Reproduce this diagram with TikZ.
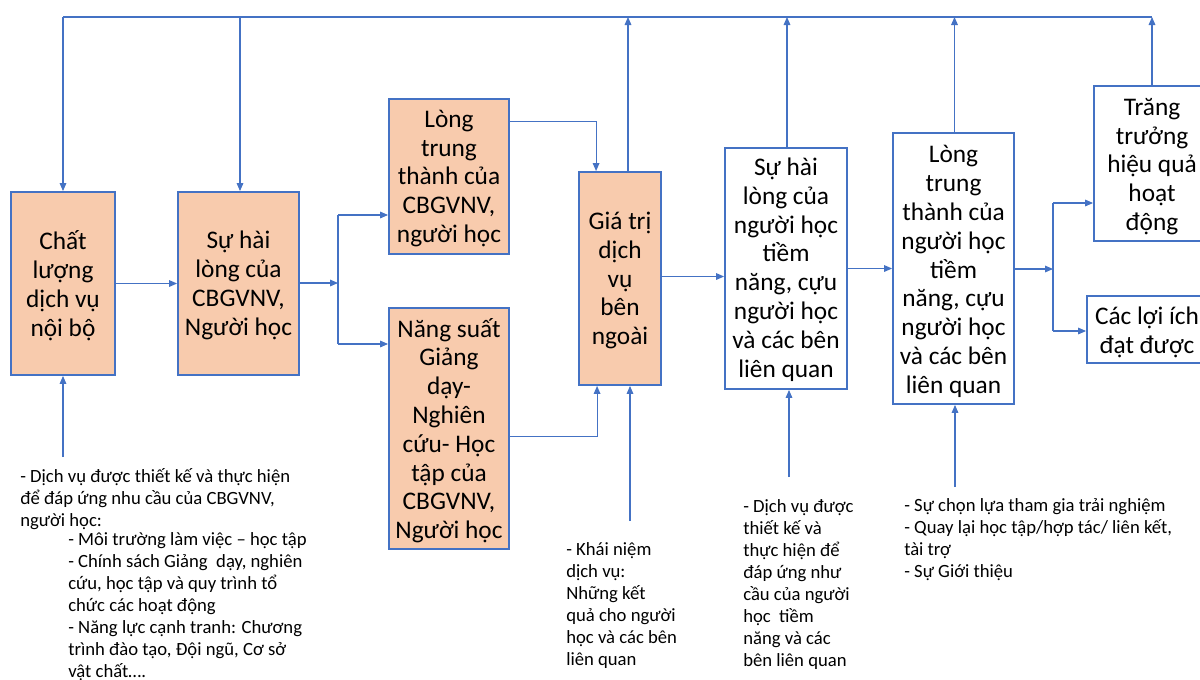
\documentclass[tikz,border=0pt]{standalone}
\usepackage{fontspec}
\setmainfont{Carlito}
\usetikzlibrary{arrows.meta,calc,fit}
\definecolor{peach}{HTML}{F8CBAD}
\definecolor{edge}{HTML}{4472C4}
\begin{document}
\begin{tikzpicture}[x=0.75pt,y=-0.75pt,
  box/.style={draw=edge,line width=1.4pt,inner sep=0pt},
  warm/.style={box,fill=peach},
  plain/.style={box,fill=white},
  boxtext/.style={inner sep=0pt,align=center,
    font=\fontsize{19}{21.6}\selectfont},
  link/.style={draw=edge,line width=0.8pt},
  arr/.style={link,-{Triangle[length=6pt,width=5pt]}},
  note/.style={align=left,inner sep=0pt,anchor=north west,
    font=\fontsize{14}{16.5}\selectfont}]
\clip (0,0) rectangle (1200,679);

% main boxes
\node[warm,fit={(11,192)(115,375)}] (b1) {};
\node[warm,fit={(178,192)(299,375)}] (b2) {};
\node[warm,fit={(389,99)(509,254)}] (b3) {};
\node[warm,fit={(389,308)(509,549)}] (b4) {};
\node[warm,fit={(579,172)(661,385)}] (b5) {};
\node[plain,fit={(725,148)(847,389)}] (b6) {};
\node[plain,fit={(893,133)(1014,404)}] (b7) {};
\node[plain,fit={(1094,86)(1210,241)}] (b8) {};
\node[plain,fit={(1087,296)(1207,363)}] (b9) {};

% box captions
\node[boxtext] (t1) at ($(b1.center)+(0,2)$) {Chất\\lượng\\dịch vụ\\nội bộ};
\node[boxtext] (t2) at ($(b2.center)+(0,2)$) {Sự hài\\lòng của\\CBGVNV,\\Người học};
\node[boxtext] (t3) at ($(b3.center)+(0,2)$) {Lòng\\trung\\thành của\\CBGVNV,\\người học};
\node[boxtext] (t4) at ($(b4.center)+(0,2)$) {Năng suất\\Giảng\\dạy-\\Nghiên\\cứu- Học\\tập của\\CBGVNV,\\Người học};
\node[boxtext] (t5) at ($(b5.center)+(0,2)$) {Giá trị\\dịch\\vụ\\bên\\ngoài};
\node[boxtext] (t6) at ($(b6.center)+(0,1)$) {Sự hài\\lòng của\\người học\\tiềm\\năng, cựu\\người học\\và các bên\\liên quan};
\node[boxtext] (t7) at ($(b7.center)+(0,3)$) {Lòng\\trung\\thành của\\người học\\tiềm\\năng, cựu\\người học\\và các bên\\liên quan};
\node[boxtext] (t8) at ($(b8.center)+(0,3)$) {Trăng\\trưởng\\hiệu quả\\hoạt\\động};
\node[boxtext] (t9) at ($(b9.center)+(0,3)$) {Các lợi ích\\đạt được};

% notes under the boxes
\node[note] (n1) at (20,468) {- Dịch vụ được thiết kế và thực hiện\\để đáp ứng nhu cầu của CBGVNV,\\người học:};
\node[note] (n1b) at (68,532) {- Môi trường làm việc – học tập\\- Chính sách Giảng\ \ dạy, nghiên\\cứu, học tập và quy trình tổ\\chức các hoạt động\\- Năng lực cạnh tranh: Chương\\trình đào tạo, Đội ngũ, Cơ sở\\vật chất….};
\node[note] (n2) at (566,542) {- Khái niệm\\dịch vụ:\\Những kết\\quả cho người\\học và các bên\\liên quan};
\node[note] (n3) at (743,499) {- Dịch vụ được\\thiết kế và\\thực hiện để\\đáp ứng như\\cầu của người\\học\ \ tiềm\\năng và các\\bên liên quan};
\node[note] (n4) at (904,498) {- Sự chọn lựa tham gia trải nghiệm\\- Quay lại học tập/hợp tác/ liên kết,\\tài trợ\\- Sự Giới thiệu};

% feedback line along the top
\coordinate (top) at (63,17);
\coordinate (topend) at (1152,17);
\coordinate (d2) at (240,17);
\coordinate (p5) at ($(b5.north)+(8,0)$);
\coordinate (p6) at ($(b6.north)+(1,0)$);
\coordinate (p7) at ($(b7.north)+(1,0)$);
\draw[link] (top) -- (topend);
\draw[arr] (b1.north |- top) -- (b1.north);
\draw[arr] (d2) -- (d2 |- b2.north);
\draw[arr] (p5) -- (p5 |- top);
\draw[arr] (p6) -- (p6 |- top);
\draw[arr] (p7) -- (p7 |- top);
\draw[arr] (b8.north) -- (b8.north |- top);

% forward chain
\draw[arr] (b1.east) -- (b2.west);
\coordinate (s1) at (338,283);
\coordinate (s1a) at (338,215);
\coordinate (s1b) at (338,344);
\draw[arr] (b2.east |- s1) -- (s1);
\draw[link] (s1a) -- (s1b);
\draw[arr] (s1a) -- (s1a -| b3.west);
\draw[arr] (s1b) -- (s1b -| b4.west);
\draw[arr] ($(b3.north east)+(0,23)$) -| ($(b5.north west)+(18,0)$);
\draw[arr] ($(b4.north east)+(0,129)$) -| ($(b5.south west)+(19,0)$);
\coordinate (e5) at ($(b5.east)+(0,-2)$);
\draw[arr] (e5) -- (e5 -| b6.west);
\draw[arr] (b6.east) -- (b6.east -| b7.west);
\coordinate (s2) at (1053,269);
\coordinate (s2a) at (1053,203);
\coordinate (s2b) at (1053,331);
\draw[arr] (b7.east |- s2) -- (s2);
\draw[link] (s2a) -- (s2b);
\draw[arr] (s2a) -- (s2a -| b8.west);
\draw[arr] (s2b) -- (s2b -| b9.west);

% inputs from below
\coordinate (u1) at (63,457);
\coordinate (u5) at (630,521);
\coordinate (u6) at (789,477);
\coordinate (u7) at (955,487);
\draw[arr] (u1) -- (u1 |- b1.south);
\draw[arr] (u5) -- (u5 |- b5.south);
\draw[arr] (u6) -- (u6 |- b6.south);
\draw[arr] (u7) -- (u7 |- b7.south);
\end{tikzpicture}
\end{document}
